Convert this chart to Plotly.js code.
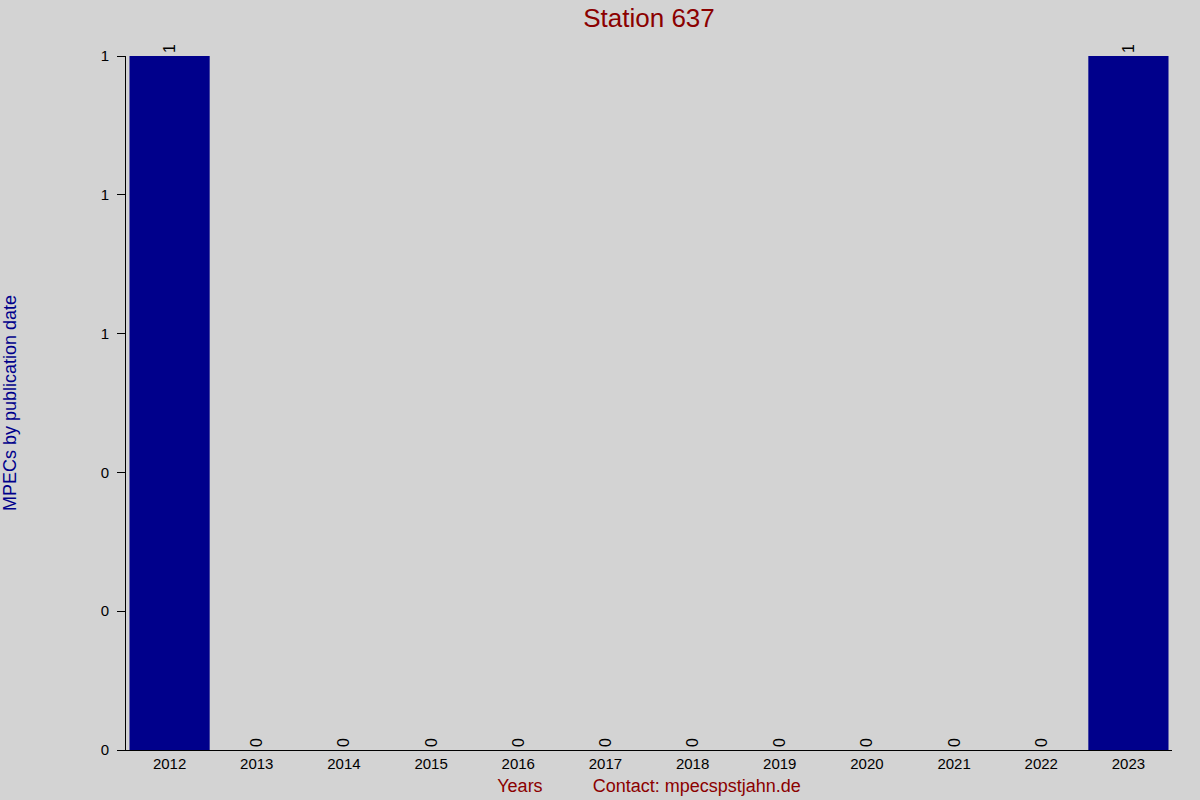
<!DOCTYPE html>
<html>
<head>
<meta charset="utf-8">
<script src="https://cdn.plot.ly/plotly-3.0.1.min.js"></script>
<style>
  body { margin: 0; background: #d3d3d3; }
  #chart { width: 1200px; height: 800px; }
</style>
</head>
<body>
<div id="chart"></div>
<script>
// MPECs per year for station 637
let years = ['2012', '2013', '2014', '2015', '2016', '2017', '2018', '2019', '2020', '2021', '2022', '2023'];
let counts = [1, 0, 0, 0, 0, 0, 0, 0, 0, 0, 0, 1];

// y tick labels are rounded to whole numbers in the original
let yTickVals = [0, 0.2, 0.4, 0.6, 0.8, 1];
let yTickText = ['0', '0', '0', '1', '1', '1'];

let data = [{
    type: 'bar',
    x: years,
    y: counts,
    text: counts.map(String),
    textposition: 'outside',
    textangle: -90,
    constraintext: 'none',
    cliponaxis: false,
    textfont: {family: 'Liberation Sans, Arial, sans-serif', size: 16, color: '#000000'},
    marker: {color: '#00008b', line: {width: 0}},
    hoverinfo: 'none'
}];

let layout = {
    width: 1200,
    height: 800,
    paper_bgcolor: '#d3d3d3',
    plot_bgcolor: '#d3d3d3',
    margin: {l: 126, r: 28, t: 56, b: 50},
    font: {family: 'Liberation Sans, Arial, sans-serif', size: 15, color: '#000000'},
    showlegend: false,
    bargap: 0.08,
    title: {
        text: 'Station 637',
        font: {size: 26, color: '#8b0000'},
        xref: 'paper',
        x: 0.5,
        xanchor: 'center',
        yref: 'container',
        y: 0.978,
        yanchor: 'middle'
    },
    xaxis: {
        type: 'category',
        range: [-0.5, 11.5],
        showline: true,
        linecolor: '#000000',
        linewidth: 1,
        showgrid: false,
        zeroline: false,
        ticks: '',
        tickfont: {size: 15, color: '#000000'},
        title: {
            text: 'Years\u00a0\u00a0\u00a0\u00a0\u00a0\u00a0\u00a0\u00a0\u00a0\u00a0Contact: mpecspstjahn.de',
            font: {size: 18, color: '#8b0000'},
            standoff: 8
        }
    },
    yaxis: {
        range: [0, 1],
        tickvals: yTickVals,
        ticktext: yTickText,
        showline: true,
        linecolor: '#000000',
        linewidth: 1,
        showgrid: false,
        zeroline: false,
        ticks: 'outside',
        ticklen: 8,
        tickcolor: '#000000',
        ticklabelstandoff: 5,
        tickfont: {size: 15, color: '#000000'},
        title: {
            text: 'MPECs by publication date',
            font: {size: 18, color: '#00008b'},
            standoff: 80
        }
    }
};

Plotly.newPlot('chart', data, layout, {staticPlot: true});
</script>
</body>
</html>
